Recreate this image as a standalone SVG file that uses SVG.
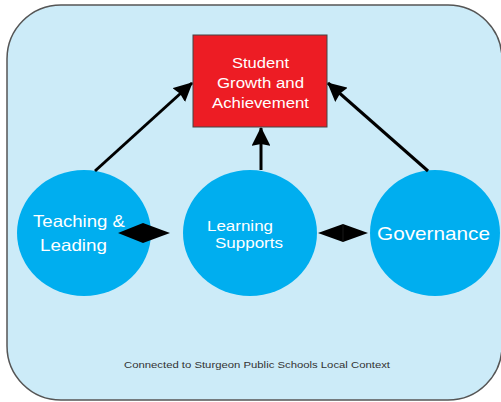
<svg xmlns="http://www.w3.org/2000/svg" width="501" height="402" viewBox="0 0 501 402">
<defs>
<marker id="arr" viewBox="0 0 10 10" refX="9.5" refY="5" markerWidth="6.3" markerHeight="6.3" orient="auto" markerUnits="strokeWidth">
<path d="M0,0 L10,5 L0,10 L1,5 z" fill="#000"/>
</marker>
</defs>
<style>
.bg{fill:#CCEBF8;stroke:#555;stroke-width:1.5}
.circ{fill:#00AEEF}
.box{fill:#ED1C24;stroke:#444;stroke-width:1}
.wt{fill:#fff;font-family:"Liberation Sans",Arial,sans-serif}
.edge{stroke:#000;stroke-width:3;fill:none;marker-end:url(#arr)}
.dia{fill:#000}
</style>
<path class="bg" d="M61,5 H448 A54,54 0 0 1 502,59 V346 A54,54 0 0 1 448,400 H61 A54,54 0 0 1 7,346 V59 A54,54 0 0 1 61,5 Z"/>
<g id="outcome">
<rect class="box" x="193" y="35" width="134" height="92"/>
<text class="wt" font-size="15.5" x="232" y="68" textLength="57" lengthAdjust="spacingAndGlyphs">Student</text>
<text class="wt" font-size="15.5" x="217" y="88" textLength="87" lengthAdjust="spacingAndGlyphs">Growth and</text>
<text class="wt" font-size="15.5" x="212" y="108" textLength="97" lengthAdjust="spacingAndGlyphs">Achievement</text>
</g>
<g id="teaching">
<ellipse class="circ" cx="84" cy="233" rx="67" ry="63"/>
<text class="wt" font-size="16.5" x="33" y="227" textLength="92" lengthAdjust="spacingAndGlyphs">Teaching &amp;</text>
<text class="wt" font-size="16.5" x="40" y="251" textLength="67" lengthAdjust="spacingAndGlyphs">Leading</text>
</g>
<g id="learning">
<ellipse class="circ" cx="250" cy="233" rx="67" ry="63"/>
<text class="wt" font-size="15" x="207" y="231" textLength="66" lengthAdjust="spacingAndGlyphs">Learning</text>
<text class="wt" font-size="15" x="215" y="248" textLength="68" lengthAdjust="spacingAndGlyphs">Supports</text>
</g>
<g id="governance">
<ellipse class="circ" cx="435" cy="233" rx="65" ry="63"/>
<text class="wt" font-size="19" x="377" y="240" textLength="113" lengthAdjust="spacingAndGlyphs">Governance</text>
</g>
<g id="connectors">
<line class="edge" x1="95" y1="171" x2="192" y2="83"/>
<line class="edge" x1="261" y1="170" x2="261" y2="128"/>
<line class="edge" x1="428" y1="171" x2="328" y2="83"/>
<polygon class="dia" points="118,233 143,223 170,233 143,243"/>
<polygon class="dia" points="318,233 343,224 368,233 343,242"/>
<line x1="343" y1="224" x2="343" y2="242" stroke="#333" stroke-width="0.5"/>
</g>
<text x="124" y="368" font-size="9.5" fill="#333" font-family="'Liberation Sans',Arial,sans-serif" textLength="266" lengthAdjust="spacingAndGlyphs">Connected to Sturgeon Public Schools Local Context</text>
</svg>
